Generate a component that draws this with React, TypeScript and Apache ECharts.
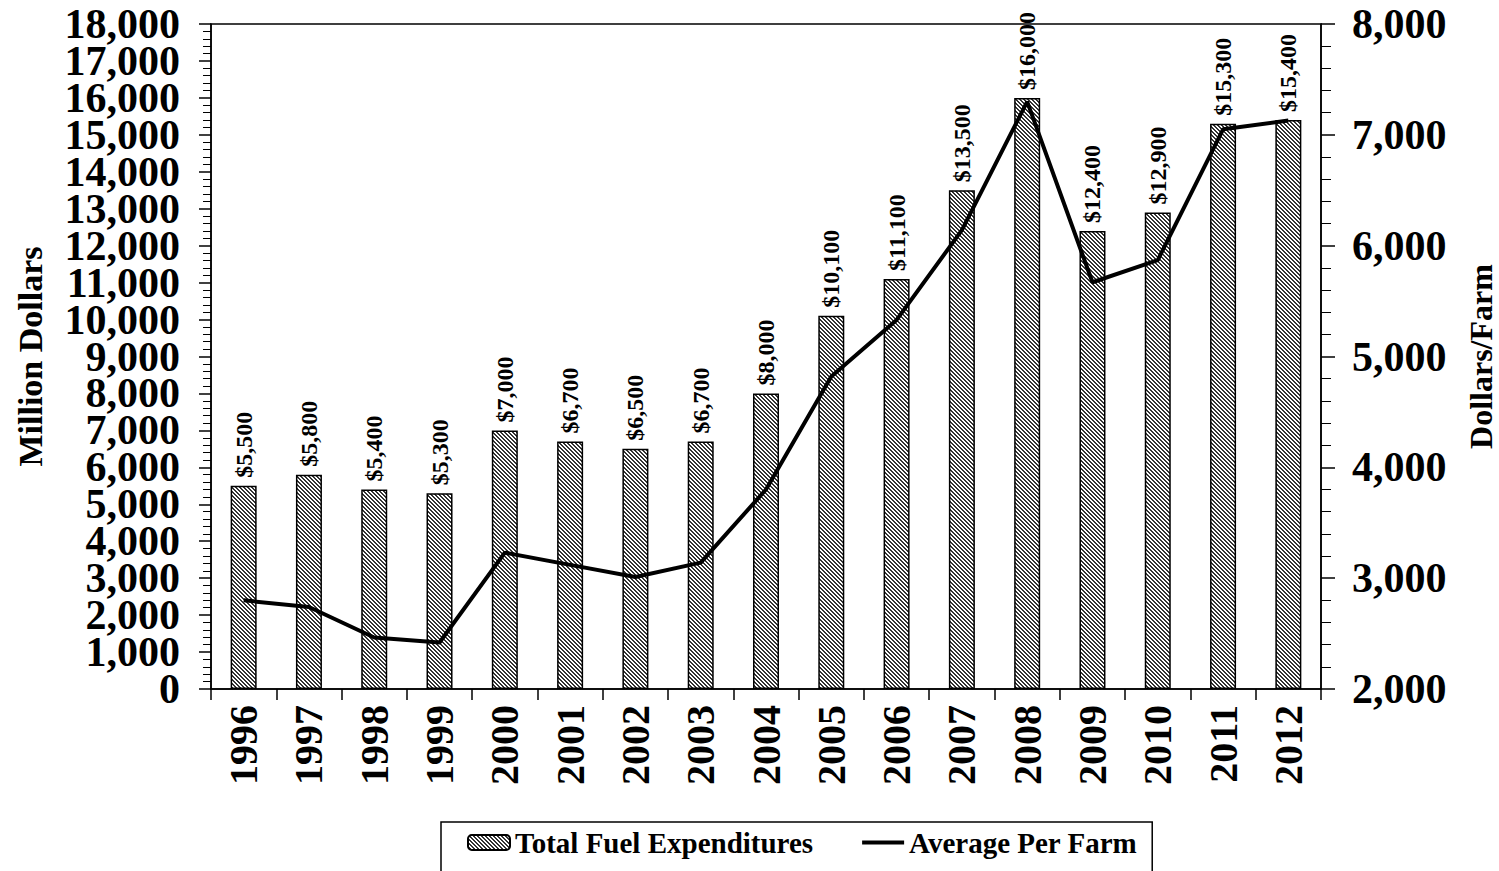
import React, { useEffect, useRef } from "react";
import * as echarts from "echarts";

const years = ["1996", "1997", "1998", "1999", "2000", "2001", "2002", "2003", "2004", "2005", "2006", "2007", "2008", "2009", "2010", "2011", "2012"];
const totalFuel = [5500, 5800, 5400, 5300, 7000, 6700, 6500, 6700, 8000, 10100, 11100, 13500, 16000, 12400, 12900, 15300, 15400];
const perFarm = [2800, 2740, 2465, 2420, 3230, 3120, 3010, 3140, 3800, 4820, 5330, 6140, 7300, 5670, 5870, 7050, 7130];

const FONT = "'Liberation Serif', 'Times New Roman', serif";

function makeHatch(): HTMLCanvasElement {
  const n = 4;
  const c = document.createElement("canvas");
  c.width = n * 4;
  c.height = n * 4;
  const ctx = c.getContext("2d")!;
  ctx.fillStyle = "#ffffff";
  ctx.fillRect(0, 0, c.width, c.height);
  ctx.fillStyle = "#333333";
  for (let y = 0; y < c.height; y++) {
    for (let x = 0; x < c.width; x++) {
      const m = (((x - y) % n) + n) % n;
      if (m === 0 || m === 1) ctx.fillRect(x, y, 1, 1);
    }
  }
  return c;
}

export default function App() {
  const ref = useRef<HTMLDivElement>(null);
  useEffect(() => {
    if (!ref.current) return;
    const chart = echarts.init(ref.current, null, { renderer: "svg" });
    const hatch = { image: makeHatch(), repeat: "repeat" } as any;
    const fmt = (v: number) => v.toLocaleString("en-US");
    const leftLabelStyle = {
      margin: 31,
      fontFamily: FONT,
      fontWeight: "bold",
      fontSize: 42,
      color: "#000",
    };
    chart.setOption({
      animation: false,
      backgroundColor: "#ffffff",
      textStyle: { fontFamily: FONT },
      grid: {
        left: 211,
        right: 178,
        top: 24,
        bottom: 182,
        containLabel: false,
        outerBoundsMode: "none",
        show: true,
        borderColor: "#000",
        borderWidth: 1.5,
        backgroundColor: "transparent",
      },
      legend: {
        left: 441,
        top: 822,
        data: [
          { name: "Total Fuel Expenditures" },
          { name: "Average Per Farm", itemStyle: { opacity: 0 } },
        ],
        lineStyle: { width: 4 },
        backgroundColor: "#fff",
        borderColor: "#000",
        borderWidth: 1.5,
        borderRadius: 0,
        padding: [6, 15, 30, 26],
        itemGap: 47,
        itemWidth: 42,
        itemHeight: 15,
        textStyle: { fontFamily: FONT, fontWeight: "bold", fontSize: 29, color: "#000" },
      },
      xAxis: {
        type: "category",
        data: years,
        boundaryGap: true,
        axisLine: { lineStyle: { color: "#000", width: 1.5 } },
        axisTick: { show: true, interval: 0, length: 11, lineStyle: { color: "#000", width: 1.5 } },
        axisLabel: {
          interval: 0,
          rotate: 90,
          margin: 16,
          fontFamily: FONT,
          fontWeight: "bold",
          fontSize: 40,
          color: "#000",
        },
      },
      yAxis: [
        {
          type: "value",
          min: 0,
          max: 18000,
          interval: 1000,
          position: "left",
          name: "Million Dollars",
          nameLocation: "middle",
          nameRotate: 90,
          nameGap: 164,
          nameTextStyle: { fontFamily: FONT, fontWeight: "bold", fontSize: 34, color: "#000" },
          axisLine: { show: true, lineStyle: { color: "#000", width: 1.5 } },
          axisTick: { show: true, length: 12, lineStyle: { color: "#000", width: 1.5 } },
          minorTick: { show: true, splitNumber: 5, length: 8, lineStyle: { color: "#000", width: 1 } },
          splitLine: { show: false },
          axisLabel: {
            ...leftLabelStyle,
            showMinLabel: true,
            showMaxLabel: true,
            formatter: (v: number) => ((v / 1000) % 2 === 0 ? fmt(v) : ""),
          },
        },
        {
          type: "value",
          min: 2000,
          max: 8000,
          interval: 1000,
          position: "right",
          name: "Dollars/Farm",
          nameLocation: "middle",
          nameRotate: 90,
          nameGap: 144,
          nameTextStyle: { fontFamily: FONT, fontWeight: "bold", fontSize: 32, color: "#000" },
          axisLine: { show: true, lineStyle: { color: "#000", width: 1.5 } },
          axisTick: { show: true, length: 14, lineStyle: { color: "#000", width: 1.5 } },
          minorTick: { show: true, splitNumber: 5, length: 10, lineStyle: { color: "#000", width: 1 } },
          splitLine: { show: false },
          axisLabel: {
            margin: 31,
            showMinLabel: true,
            showMaxLabel: true,
            formatter: fmt,
            fontFamily: FONT,
            fontWeight: "bold",
            fontSize: 42,
            color: "#000",
          },
        },
        {
          type: "value",
          min: 0,
          max: 18000,
          interval: 1000,
          position: "left",
          axisLine: { show: false },
          axisTick: { show: false },
          minorTick: { show: false },
          splitLine: { show: false },
          axisLabel: {
            ...leftLabelStyle,
            showMinLabel: false,
            showMaxLabel: false,
            formatter: (v: number) => ((v / 1000) % 2 === 1 ? fmt(v) : ""),
          },
        },
      ],
      series: [
        {
          name: "Total Fuel Expenditures",
          type: "bar",
          data: totalFuel,
          yAxisIndex: 0,
          barWidth: 26,
          itemStyle: { color: hatch, borderColor: "#000", borderWidth: 1.5 },
          label: {
            show: true,
            position: "top",
            rotate: 90,
            align: "left",
            verticalAlign: "middle",
            distance: 8,
            formatter: (p: any) => "$" + fmt(p.value),
            fontFamily: FONT,
            fontWeight: "bold",
            fontSize: 24,
            color: "#000",
          },
          z: 2,
        },
        {
          name: "Average Per Farm",
          type: "line",
          data: perFarm,
          yAxisIndex: 1,
          symbol: "none",
          lineStyle: { color: "#000", width: 4 },
          itemStyle: { color: "#000" },
          z: 3,
        },
      ],
    });
    return () => chart.dispose();
  }, []);
  return (
    <div
      ref={ref}
      style={{ position: "fixed", left: 0, top: 0, width: 1499, height: 871, background: "#fff" }}
    />
  );
}
